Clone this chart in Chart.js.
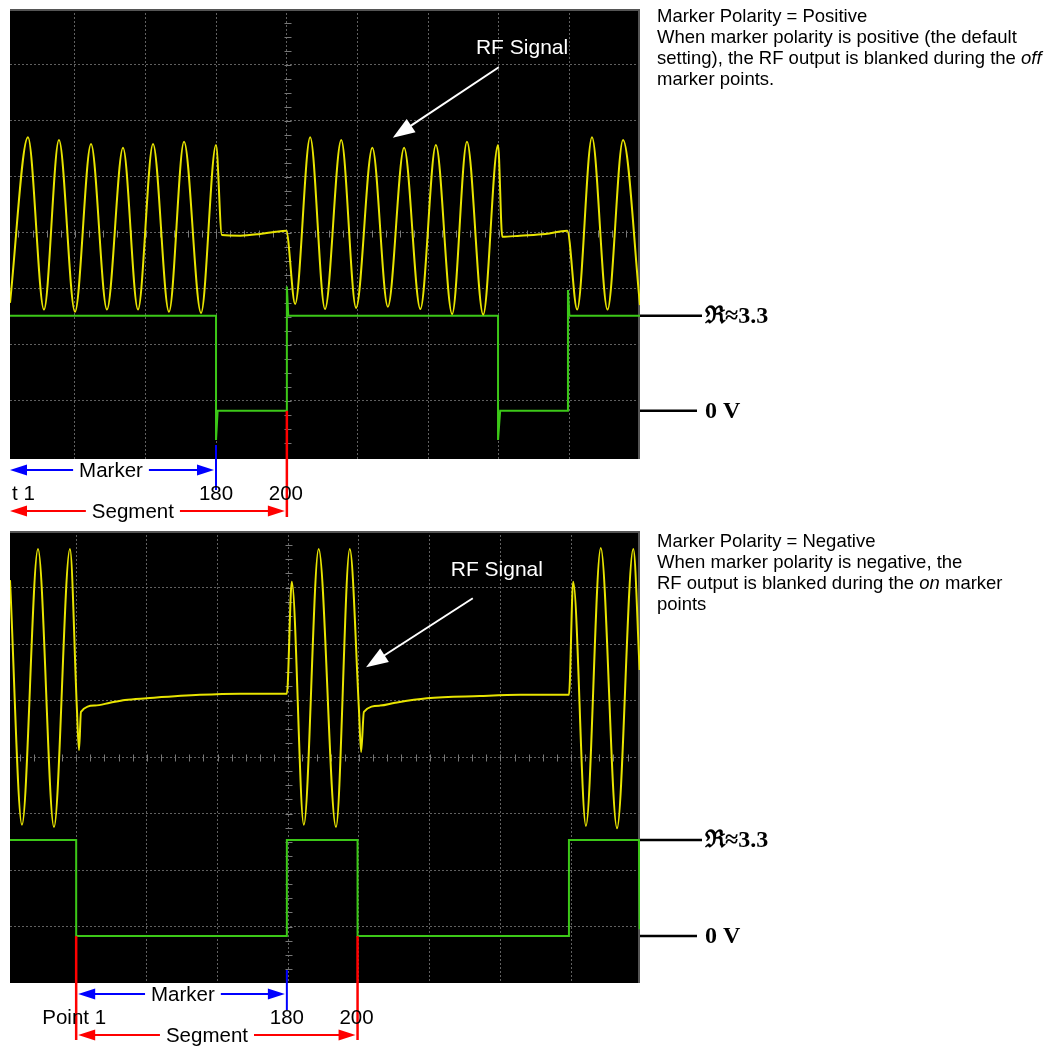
<!DOCTYPE html>
<html>
<head>
<meta charset="utf-8">
<script src="https://cdn.jsdelivr.net/npm/chart.js@4.4.1/dist/chart.umd.min.js"></script>
<style>
  body { margin: 0; background: #fff; }
  #page { position: relative; width: 1051px; height: 1047px; overflow: hidden; }
  canvas { position: absolute; left: 0; }
  .note {
    position: absolute; left: 657px;
    font: 18.5px "Liberation Sans", Arial, sans-serif;
    line-height: 21px; white-space: nowrap; color: #000;
  }
</style>
</head>
<body>
<div id="page">
  <canvas id="scope-positive" width="1051" height="525" style="top:0"></canvas>
  <canvas id="scope-negative" width="1051" height="522" style="top:525px"></canvas>
  <div class="note" style="top:5px">Marker Polarity = Positive<br>When marker polarity is positive (the default<br>setting), the RF output is blanked during the <i>off</i><br>marker points.</div>
  <div class="note" style="top:530px">Marker Polarity = Negative<br>When marker polarity is negative, the<br>RF output is blanked during the <i>on</i> marker<br>points</div>
</div>
<script>
// x in screen divisions, y in screen divisions (0 = bottom of screen)

// top screen, marker polarity positive
const posRfX = [0.08, 0.334, 0.561, 0.773, 1.0, 1.227, 1.453, 1.68, 1.892, 2.105, 2.331, 2.544, 2.785, 2.997,
  3.08, 3.34, 3.62, 3.84, 3.99,
  4.117, 4.33, 4.54, 4.77, 4.98, 5.21, 5.43, 5.66, 5.89, 6.11, 6.34, 6.55, 6.78, 6.99,
  7.05, 7.30, 7.66, 7.97,
  8.11, 8.32, 8.54, 8.76, 9.0];
const posRfY = [2.75, 5.71, 2.63, 5.66, 2.59, 5.59, 2.63, 5.52, 2.63, 5.59, 2.59, 5.63, 2.57, 5.57,
  3.96, 3.95, 3.98, 4.02, 4.04,
  2.73, 5.71, 2.64, 5.66, 2.66, 5.52, 2.68, 5.52, 2.64, 5.57, 2.55, 5.63, 2.54, 5.57,
  3.93, 3.95, 3.98, 4.04,
  2.63, 5.71, 2.63, 5.66, 2.71];
const posMarkerX = [0.08, 2.997, 2.997, 3.02, 4.0, 4.0, 4.02, 6.99, 6.99, 7.02, 7.98, 7.98, 8.0, 9.0];
const posMarkerY = [2.52, 2.52, 0.30, 0.82, 0.82, 3.04, 2.52, 2.52, 0.30, 0.82, 0.82, 2.98, 2.52, 2.52];

// bottom screen, marker polarity negative
const negRfX = [0.064, 0.233, 0.46, 0.686, 0.912, 1.011, 1.04, 1.068, 1.266, 1.478, 1.69, 2.0, 2.75, 3.32, 3.98,
  4.05, 4.22, 4.43, 4.675, 4.87, 5.0, 5.03, 5.07, 5.30, 5.51, 5.96, 6.71, 7.28, 7.97,
  8.03, 8.21, 8.42, 8.65, 8.88, 8.97];
const negRfY = [7.13, 2.80, 7.68, 2.76, 7.68, 4.83, 4.12, 4.80, 4.91, 4.96, 5.01, 5.04, 5.10, 5.12, 5.12,
  7.10, 2.80, 7.68, 2.76, 7.68, 4.83, 4.09, 4.80, 4.91, 4.96, 5.04, 5.08, 5.10, 5.10,
  7.10, 2.78, 7.70, 2.74, 7.68, 5.54];
const negMarkerX = [0.064, 1.0, 1.0, 3.98, 3.98, 4.98, 4.98, 7.97, 7.97, 8.96, 8.97];
const negMarkerY = [2.53, 2.53, 0.83, 0.83, 2.53, 2.53, 0.83, 0.83, 2.53, 2.53, 0.95];

const YELLOW = '#e8e400';
const GREEN = '#3cc818';
const SANS = '"Liberation Sans", Arial, sans-serif';

const pts = (xs, ys) => xs.map((x, i) => ({x: x, y: ys[i]}));

function line(ctx, x1, y1, x2, y2) {
  ctx.beginPath(); ctx.moveTo(x1, y1); ctx.lineTo(x2, y2); ctx.stroke();
}

function head(ctx, x, y, ang, len, half) {
  const c = Math.cos(ang), s = Math.sin(ang);
  ctx.beginPath();
  ctx.moveTo(x, y);
  ctx.lineTo(x - len * c + half * s, y - len * s - half * c);
  ctx.lineTo(x - len * c - half * s, y - len * s + half * c);
  ctx.closePath();
  ctx.fill();
}

function arrow(ctx, x1, y1, x2, y2) {
  const ang = Math.atan2(y2 - y1, x2 - x1);
  line(ctx, x1, y1, x2 - 16 * Math.cos(ang), y2 - 16 * Math.sin(ang));
  head(ctx, x2, y2, ang, 22, 8);
}

// double headed dimension arrow with a label sitting in a gap
function dimArrow(ctx, color, x1, x2, y, label, lx) {
  ctx.strokeStyle = color; ctx.fillStyle = color; ctx.lineWidth = 2;
  line(ctx, x1 + 10, y, x2 - 10, y);
  head(ctx, x1, y, Math.PI, 17, 5.5);
  head(ctx, x2, y, 0, 17, 5.5);
  ctx.font = '20.5px ' + SANS;
  const w = ctx.measureText(label).width;
  ctx.fillStyle = '#fff';
  ctx.fillRect(lx - w / 2 - 6, y - 9, w + 12, 18);
  ctx.fillStyle = '#000';
  ctx.textAlign = 'center'; ctx.textBaseline = 'middle';
  ctx.fillText(label, lx, y + 1);
}

const screenPlugin = {
  id: 'screen',
  beforeDraw(chart) {
    const {ctx, chartArea: a} = chart;
    ctx.save();
    ctx.fillStyle = '#000';
    ctx.fillRect(a.left, a.top, a.right - a.left, a.bottom - a.top);
    ctx.restore();
  },
  beforeDatasetsDraw(chart) {
    const {ctx, chartArea: a, scales: {x, y}} = chart;
    ctx.save();
    // minor marks on the centre axes
    ctx.strokeStyle = '#777'; ctx.lineWidth = 1;
    const cx = Math.round(x.getPixelForValue(4)) + 0.5;
    const cy = Math.round(y.getPixelForValue(4)) + 0.5;
    ctx.beginPath();
    for (let i = 1; i < 32; i++) {
      const p = Math.round(y.getPixelForValue(i * 0.25)) + 0.5;
      ctx.moveTo(cx - 3, p); ctx.lineTo(cx + 4, p);
    }
    for (let i = 1; i < 45; i++) {
      const d = i * 0.2;
      if (d <= x.min || d >= x.max) continue;
      const p = Math.round(x.getPixelForValue(d)) + 0.5;
      ctx.moveTo(p, cy - 3); ctx.lineTo(p, cy + 4);
    }
    ctx.stroke();
    // bezel edge
    ctx.strokeStyle = '#555'; ctx.lineWidth = 2;
    ctx.beginPath();
    ctx.moveTo(a.left, a.top + 1); ctx.lineTo(a.right - 1, a.top + 1); ctx.lineTo(a.right - 1, a.bottom);
    ctx.stroke();
    ctx.restore();
  },
  afterDraw(chart, args, o) {
    const {ctx, chartArea: a, scales: {x, y}} = chart;
    const px = (d) => x.getPixelForValue(d);
    const py = (v) => y.getPixelForValue(v);
    const b = a.bottom;
    ctx.save();

    // RF Signal callout
    ctx.fillStyle = '#fff'; ctx.strokeStyle = '#fff'; ctx.lineWidth = 2;
    ctx.font = '21px ' + SANS;
    ctx.textAlign = 'center'; ctx.textBaseline = 'middle';
    ctx.fillText('RF Signal', px(o.rf.x), py(o.rf.y));
    arrow(ctx, px(o.rf.from[0]), py(o.rf.from[1]), px(o.rf.to[0]), py(o.rf.to[1]));

    // level tags at the right
    ctx.strokeStyle = '#000'; ctx.fillStyle = '#000'; ctx.lineWidth = 2.5;
    ctx.font = 'bold 24px "Liberation Serif", "DejaVu Serif", serif';
    ctx.textAlign = 'left';
    o.levels.forEach((l) => {
      const p = py(l.v);
      line(ctx, a.right, p, a.right + l.len, p);
      ctx.fillText(l.text, a.right + 65, p + 1);
    });

    // segment / marker verticals
    ctx.lineWidth = 2.5;
    ctx.strokeStyle = '#f00';
    o.redLines.forEach((d) => line(ctx, px(d), py(o.low), px(d), b + o.redEnd));
    ctx.strokeStyle = '#00f'; ctx.lineWidth = 2;
    line(ctx, px(o.markerEnd), b + o.blueTop, px(o.markerEnd), b + o.blueEnd);

    // dimension arrows
    dimArrow(ctx, '#00f', px(o.markerStart) + o.inset, px(o.markerEnd) - 2, b + 11, 'Marker', px(o.markerLabel));
    dimArrow(ctx, '#f00', px(o.segStart) + o.inset, px(o.segEnd) - 2, b + 52, 'Segment', px(o.segLabel));

    // point numbers
    ctx.fillStyle = '#000';
    ctx.font = '20.5px ' + SANS;
    ctx.textBaseline = 'middle';
    if (o.startAlign === 'left') {
      ctx.textAlign = 'left';
      ctx.fillText(o.startText, a.left + 2, b + 35);
    } else {
      ctx.textAlign = 'center';
      ctx.fillText(o.startText, px(o.segStart) - 2, b + 35);
    }
    ctx.textAlign = 'center';
    ctx.fillText('180', px(o.markerEnd), b + 35);
    ctx.fillText('200', px(o.segEnd) - 1, b + 35);
    ctx.restore();
  }
};

function gridColor(lo, hi) {
  return (c) => (c.tick && c.tick.value > lo && c.tick.value < hi) ? 'rgba(120,120,120,0.8)' : 'transparent';
}

function makeScope(id, pad, xmin, xmax, ymin, rf, marker, notes) {
  return new Chart(document.getElementById(id), {
    type: 'line',
    data: {
      datasets: [
        {label: 'RF output', data: rf, borderColor: YELLOW, borderWidth: 2, pointRadius: 0,
          cubicInterpolationMode: 'monotone'},
        {label: 'Marker', data: marker, borderColor: GREEN, borderWidth: 2, pointRadius: 0, tension: 0}
      ]
    },
    options: {
      responsive: false,
      maintainAspectRatio: false,
      animation: false,
      events: [],
      layout: {padding: pad},
      scales: {
        x: {
          type: 'linear', min: xmin, max: xmax,
          ticks: {display: false, stepSize: 1, includeBounds: false},
          grid: {color: gridColor(0.5, 8.5), drawTicks: false},
          border: {display: false, dash: [2, 2]}
        },
        y: {
          type: 'linear', min: ymin, max: 8,
          ticks: {display: false, stepSize: 1, includeBounds: false},
          grid: {color: gridColor(0.5, 7.5), drawTicks: false},
          border: {display: false, dash: [2, 2]}
        }
      },
      plugins: {
        legend: {display: false},
        tooltip: {enabled: false},
        screen: notes
      }
    },
    plugins: [screenPlugin]
  });
}

makeScope('scope-positive', {left: 10, right: 411, top: 9, bottom: 66}, 0.08, 9.0, -0.04,
  pts(posRfX, posRfY), pts(posMarkerX, posMarkerY), {
    rf: {x: 7.33, y: 7.30, from: [7.0, 6.96], to: [5.50, 5.70]},
    levels: [{v: 2.52, text: '\u211C\u22483.3', len: 62}, {v: 0.82, text: '0 V', len: 57}],
    low: 0.82,
    redLines: [4.0],
    redEnd: 58,
    blueTop: -14, blueEnd: 31,
    markerStart: 0.08, markerEnd: 2.997, markerLabel: 1.51,
    segStart: 0.08, segEnd: 4.0, segLabel: 1.82,
    inset: 0,
    startText: 't 1', startAlign: 'left'
  });

makeScope('scope-negative', {left: 10, right: 411, top: 6, bottom: 64}, 0.064, 8.975, 0,
  pts(negRfX, negRfY), pts(negMarkerX, negMarkerY), {
    rf: {x: 6.95, y: 7.31, from: [6.61, 6.81], to: [5.10, 5.59]},
    levels: [{v: 2.53, text: '\u211C\u22483.3', len: 62}, {v: 0.83, text: '0 V', len: 57}],
    low: 0.83,
    redLines: [1.0, 4.98],
    redEnd: 57,
    blueTop: -13, blueEnd: 27,
    markerStart: 1.0, markerEnd: 3.98, markerLabel: 2.51,
    segStart: 1.0, segEnd: 4.98, segLabel: 2.85,
    inset: 2,
    startText: 'Point 1', startAlign: 'center'
  });
</script>
</body>
</html>
